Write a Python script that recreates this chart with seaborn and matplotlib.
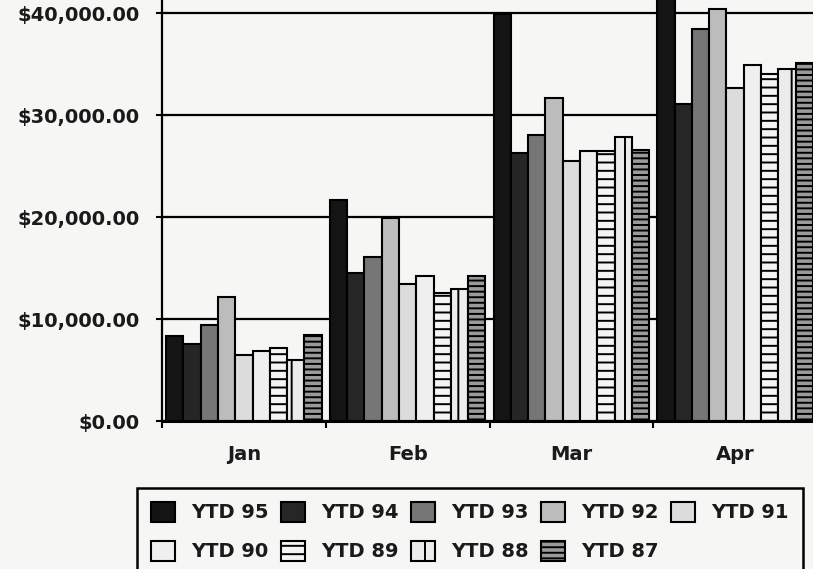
import matplotlib
matplotlib.use("Agg")
import matplotlib.pyplot as plt
import seaborn as sns
import pandas as pd
from matplotlib.ticker import FuncFormatter, FixedLocator

# ---- data ----
months = ["Jan", "Feb", "Mar", "Apr"]
series = ["YTD 95", "YTD 94", "YTD 93", "YTD 92", "YTD 91",
          "YTD 90", "YTD 89", "YTD 88", "YTD 87"]
ytd95 = [8300, 21700, 39900, 44000]
ytd94 = [7600, 14500, 26300, 31100]
ytd93 = [9400, 16100, 28100, 38500]
ytd92 = [12200, 19900, 31700, 40400]
ytd91 = [6500, 13400, 25500, 32700]
ytd90 = [6900, 14200, 26500, 34900]
ytd89 = [7200, 12600, 26500, 34100]
ytd88 = [6000, 13000, 27900, 34500]
ytd87 = [8450, 14200, 26600, 35100]
y_ticks = [0, 10000, 20000, 30000, 40000]

values = [ytd95, ytd94, ytd93, ytd92, ytd91, ytd90, ytd89, ytd88, ytd87]
rows = []
for name, vals in zip(series, values):
    for m, v in zip(months, vals):
        rows.append({"Month": m, "Series": name, "Value": v})
df = pd.DataFrame(rows)

face_colors = ["#141414", "#262626", "#767676", "#bcbcbc", "#dcdcdc",
               "#efefef", "#f4f4f4", "#ececec", "#9a9a9a"]
hatches = [None, None, None, None, None, None, "--", "|", "---"]
palette = dict(zip(series, face_colors))

bg = "#f6f6f4"
sns.set_theme(style="white")
plt.rcParams["font.family"] = ["DejaVu Sans"]
plt.rcParams["font.weight"] = "bold"
plt.rcParams["hatch.linewidth"] = 1.4
plt.rcParams["hatch.color"] = "black"

fig = plt.figure(figsize=(8.13, 5.69), dpi=100, facecolor=bg)
ax = fig.add_axes([162 / 813, 148 / 569, 655 / 813, 428 / 569])
ax.set_facecolor(bg)

sns.barplot(data=df, x="Month", y="Value", hue="Series", order=months,
            hue_order=series, palette=palette, width=0.95, errorbar=None,
            edgecolor="black", linewidth=1.5, saturation=1, legend=False,
            ax=ax)

for cont, h in zip(ax.containers, hatches):
    for p in cont:
        if h:
            p.set_hatch(h)

ax.set_ylim(0, 42000)
ax.set_xlim(-0.5, 3.5)
ax.yaxis.set_major_locator(FixedLocator(y_ticks))
ax.yaxis.set_major_formatter(FuncFormatter(lambda v, p: f"${v:,.2f}"))
ax.yaxis.grid(True, color="black", linewidth=1.6)
ax.xaxis.grid(False)
ax.set_axisbelow(True)

ax.set_xlabel("")
ax.set_ylabel("")
for s in ["top", "right"]:
    ax.spines[s].set_visible(False)
ax.spines["left"].set_color("black")
ax.spines["left"].set_linewidth(1.6)
ax.spines["bottom"].set_color("black")
ax.spines["bottom"].set_linewidth(2.2)

ax.tick_params(axis="y", which="major", direction="inout", length=8,
               width=1.5, color="black", labelsize=14, pad=12,
               left=True, labelcolor="#1a1a1a")
ax.set_xticks([-0.5, 0.5, 1.5, 2.5, 3.5], minor=True)
ax.tick_params(axis="x", which="major", length=0, labelsize=14, pad=17,
               labelcolor="#1a1a1a")
ax.tick_params(axis="x", which="minor", direction="out", length=5,
               width=1.5, color="black", bottom=True)
for lab in ax.get_xticklabels() + ax.get_yticklabels():
    lab.set_fontweight("bold")

# legend filled row by row (5 per row) like the reference
handles = list(ax.containers)
order = [0, 5, 1, 6, 2, 7, 3, 8, 4]
leg = fig.legend(handles=[handles[i] for i in order],
                 labels=[series[i] for i in order], ncol=5,
                 loc="upper left", bbox_to_anchor=(137 / 813, 1 - 488 / 569),
                 bbox_transform=fig.transFigure, borderaxespad=0,
                 frameon=True, fancybox=False, edgecolor="black",
                 facecolor=bg, framealpha=1,
                 handlelength=1.25, handleheight=1.2, handletextpad=0.85,
                 columnspacing=0.6, labelspacing=0.95, borderpad=0.7,
                 prop={"weight": "bold", "size": 14})
leg.get_frame().set_linewidth(1.8)
for t in leg.get_texts():
    t.set_color("#1a1a1a")

fig.savefig("out.png", dpi=100, facecolor=bg)
